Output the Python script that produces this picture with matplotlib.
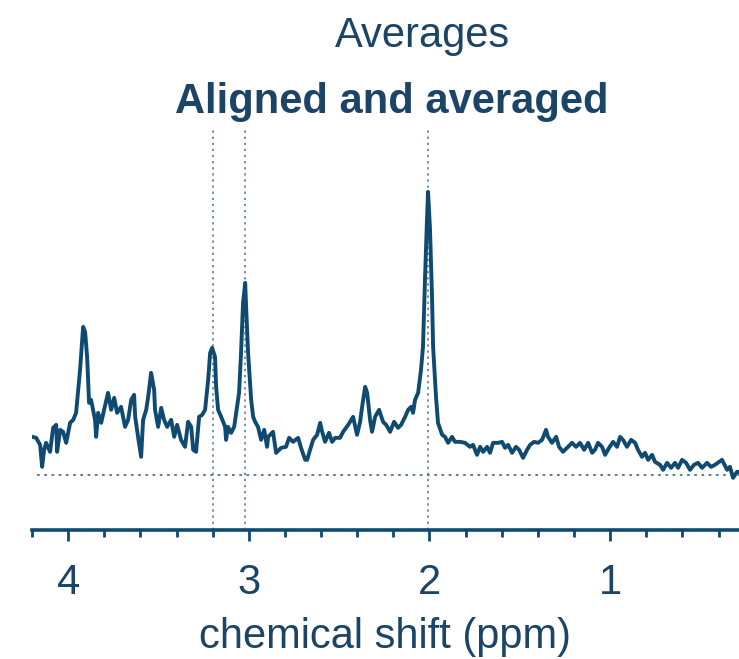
import matplotlib.pyplot as plt
from matplotlib.ticker import MultipleLocator

# averaged spectrum, chemical shift (ppm) and intensity (a.u., baseline = 0)
ppm = [4.199, 4.177, 4.155, 4.144, 4.133, 4.122, 4.100, 4.083, 4.066, 4.061,
       4.044, 4.028, 4.011, 3.989, 3.972, 3.956, 3.934, 3.917, 3.906, 3.895,
       3.884, 3.873, 3.851, 3.845, 3.834, 3.817, 3.801, 3.779, 3.762, 3.745,
       3.729, 3.707, 3.685, 3.668, 3.651, 3.635, 3.629, 3.613, 3.596, 3.585,
       3.568, 3.557, 3.541, 3.524, 3.519, 3.502, 3.485, 3.469, 3.452, 3.430,
       3.413, 3.397, 3.375, 3.353, 3.336, 3.319, 3.308, 3.292, 3.275, 3.258,
       3.242, 3.225, 3.214, 3.203, 3.187, 3.181, 3.170, 3.153, 3.131, 3.126,
       3.115, 3.098, 3.081, 3.070, 3.054, 3.043, 3.032, 3.020, 3.015, 3.004,
       2.987, 2.976, 2.965, 2.949, 2.932, 2.915, 2.899, 2.893, 2.866, 2.849,
       2.821, 2.794, 2.777, 2.755, 2.727, 2.711, 2.688, 2.677, 2.661, 2.644,
       2.622, 2.605, 2.594, 2.578, 2.556, 2.539, 2.522, 2.495, 2.478, 2.450,
       2.423, 2.401, 2.384, 2.373, 2.356, 2.345, 2.329, 2.318, 2.301, 2.279,
       2.257, 2.240, 2.218, 2.196, 2.174, 2.157, 2.135, 2.118, 2.102, 2.091,
       2.080, 2.063, 2.047, 2.036, 2.025, 2.014, 2.008, 1.997, 1.986, 1.980,
       1.964, 1.953, 1.930, 1.914, 1.897, 1.875, 1.859, 1.831, 1.803, 1.776,
       1.759, 1.737, 1.720, 1.703, 1.681, 1.665, 1.648, 1.620, 1.598, 1.582,
       1.565, 1.543, 1.521, 1.504, 1.482, 1.460, 1.443, 1.421, 1.399, 1.377,
       1.355, 1.344, 1.322, 1.299, 1.283, 1.261, 1.233, 1.211, 1.189, 1.167,
       1.144, 1.122, 1.100, 1.084, 1.067, 1.045, 1.028, 1.006, 0.984, 0.962,
       0.945, 0.929, 0.907, 0.884, 0.862, 0.846, 0.824, 0.807, 0.790, 0.768,
       0.752, 0.724, 0.707, 0.685, 0.663, 0.641, 0.624, 0.602, 0.580, 0.558,
       0.536, 0.514, 0.491, 0.464, 0.442, 0.420, 0.397, 0.381, 0.353, 0.337,
       0.320, 0.298, 0.287]
intensity = [38, 37, 30, 8, 25, 32, 23, 47, 50, 23,
             45, 43, 32, 52, 55, 62, 105, 148, 143, 118,
             72, 75, 55, 38, 62, 52, 65, 82, 65, 77,
             62, 68, 48, 55, 75, 80, 58, 38, 18, 55,
             65, 78, 102, 85, 65, 48, 67, 55, 48, 55,
             38, 50, 35, 28, 53, 48, 25, 23, 58, 60,
             65, 95, 122, 127, 118, 88, 65, 58, 48, 35,
             48, 42, 48, 62, 82, 122, 172, 192, 168, 122,
             75, 58, 53, 48, 35, 45, 28, 38, 43, 22,
             27, 28, 37, 33, 37, 27, 15, 15, 25, 35,
             40, 52, 43, 33, 42, 33, 37, 37, 43, 50,
             58, 40, 53, 68, 88, 82, 55, 43, 58, 65,
             53, 50, 43, 53, 47, 50, 58, 65, 68, 62,
             75, 82, 105, 128, 195, 255, 283, 245, 178, 128,
             78, 52, 40, 38, 32, 38, 33, 33, 32, 28,
             30, 20, 28, 23, 28, 22, 32, 32, 33, 27,
             30, 22, 28, 25, 17, 25, 30, 33, 32, 35,
             45, 38, 32, 38, 28, 23, 28, 32, 28, 32,
             25, 32, 22, 25, 32, 28, 20, 27, 33, 28,
             38, 35, 28, 35, 32, 25, 18, 22, 15, 20,
             13, 10, 5, 12, 7, 12, 7, 15, 12, 5,
             10, 12, 7, 12, 8, 10, 13, 15, 5, 8,
             -3, 3, 3]

# reference shifts marked with dotted lines
marker_ppm = [3.20, 3.02, 2.01]

line_col = "#0f4a70"
dot_col = "#4f7294"
text_col = "#1b4466"

plt.rcParams['font.family'] = ['Liberation Sans', 'DejaVu Sans']

fig = plt.figure(figsize=(7.39, 6.59), dpi=100)
ax = fig.add_axes([0.0433, 0.196, 0.9567, 0.607])

for p in marker_ppm:
    ax.axvline(p, color=dot_col, lw=1.1, ls=(0, (1.5, 2.5)), zorder=1)
ax.hlines(0, 4.17, 0.287, color=dot_col, lw=1.3, ls=(0, (1.5, 2.5)), zorder=1)

ax.plot(ppm, intensity, color=line_col, lw=2.8, zorder=3)

ax.set_xlim(4.2, 0.287)
ax.set_ylim(-55, 345)

for s in ['left', 'right', 'top']:
    ax.spines[s].set_visible(False)
ax.spines['bottom'].set_color(line_col)
ax.spines['bottom'].set_linewidth(2.6)
ax.set_yticks([])

ax.xaxis.set_major_locator(MultipleLocator(1))
ax.xaxis.set_minor_locator(MultipleLocator(0.2))
ax.tick_params(axis='x', which='major', length=8, width=2, color=line_col,
               labelsize=30, labelcolor=text_col, pad=16)
ax.tick_params(axis='x', which='minor', length=5, width=2, color=line_col)
ax.set_xticks([4, 3, 2, 1])
ax.set_xticklabels(['4', '3', '2', '1'])
ax.set_xlabel("chemical shift (ppm)", fontsize=30, color=text_col, labelpad=10)

fig.text(0.572, 0.945, "Averages", fontsize=30, color=text_col,
         ha='center', va='center')
fig.text(0.530, 0.845, "Aligned and averaged", fontsize=30, fontweight='bold',
         color=text_col, ha='center', va='center')

fig.savefig("out.png", dpi=100)
